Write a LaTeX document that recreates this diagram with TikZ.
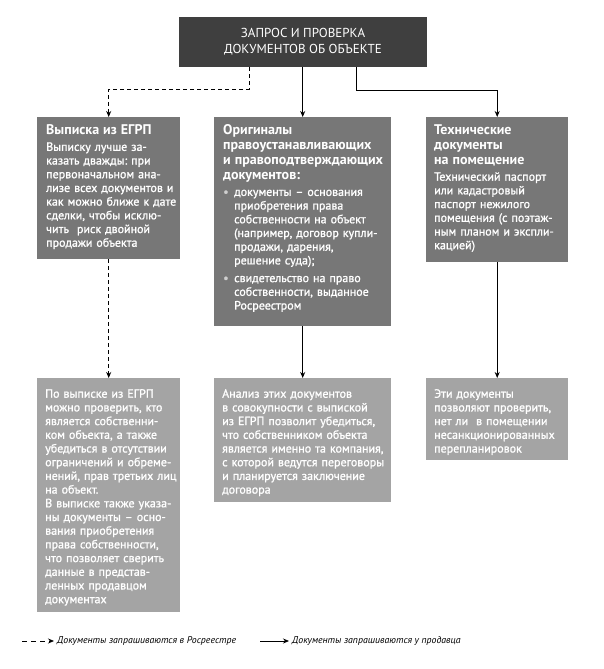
\documentclass[tikz,border=0pt]{standalone}
\usepackage{fontspec}
\setmainfont{PT Sans}
\newfontfamily\semifont{PT Sans}[FakeBold=1.2,WordSpace=0.85]
\usepackage{xcolor}
\usepackage{tikz}
\usetikzlibrary{arrows.meta,positioning,calc}
\frenchspacing
\definecolor{darkfill}{HTML}{3F3F3F}
\definecolor{midfill}{HTML}{777777}
\definecolor{lightfill}{HTML}{A4A4A4}
\definecolor{dotgray}{HTML}{CFCFCF}
\tikzset{
  reqbox/.style ={fill=darkfill,text=white,minimum width=248pt,minimum height=50pt,inner sep=0pt,align=center,font=\fontsize{13}{16}\selectfont},
  upbox/.style  ={fill=midfill,anchor=north west,inner sep=0pt},
  lowbox/.style ={fill=lightfill,anchor=north west,inner sep=0pt},
  txt/.style    ={text=white,anchor=north west,inner sep=0pt,align=left,text width=200pt,font=\semifont\fontsize{12}{13.7}\selectfont\frenchspacing},
  arr/.style    ={-{Stealth[length=6pt,width=5pt]},line width=0.9pt},
  darr/.style   ={arr,dash pattern=on 4pt off 3pt},
  legtxt/.style ={anchor=west,inner xsep=3pt,inner ysep=0pt,font=\itshape\fontsize{9.8}{11}\selectfont},
}
\newcommand{\hdfont}{\rmfamily\bfseries\fontsize{14}{15}\selectfont}
\newcommand{\bdfont}{\semifont\mdseries\fontsize{12}{13.7}\selectfont}
\newcommand{\bul}{\makebox[11pt][l]{\textcolor{dotgray}{\textbullet}}}
\newcommand{\ind}{\hspace*{11pt}}

\begin{document}
\begin{tikzpicture}[x=1pt,y=-1pt]
  \useasboundingbox (0,0) rectangle (604,669);
  % top
  \node[reqbox] (req) at (303,42) {ЗАПРОС И ПРОВЕРКА\\ДОКУМЕНТОВ ОБ ОБЪЕКТЕ};
  % first row
  \node[upbox,minimum width=143pt,minimum height=142pt] (egrp) at (37,117) {};
  \node[upbox,minimum width=177pt,minimum height=209pt] (orig) at (214,117) {};
  \node[upbox,minimum width=142pt,minimum height=145pt] (tech) at (426,117) {};
  % second row
  \node[lowbox,minimum width=143pt,minimum height=234pt] (chkA) at (37,378) {};
  \node[lowbox,minimum width=177pt,minimum height=124pt] (chkB) at (214,378) {};
  \node[lowbox,minimum width=142pt,minimum height=82pt]  (chkC) at (426,378) {};
  % texts, first row
  \node[txt] (egrp-t) at ([xshift=9pt,yshift=-7pt]egrp.north west)
    {\hdfont Выписка из ЕГРП\\[3pt]\bdfont
     Выписку лучше за-\\казать дважды: при\\первоначальном ана-\\лизе всех документов и\\
     как можно ближе к дате\\сделки, чтобы исклю-\\чить\ \ риск двойной\\продажи объекта};
  \node[txt] (orig-t) at ([xshift=9pt,yshift=-7pt]orig.north west)
    {\hdfont Оригиналы\\правоустанавливающих\\и правоподтверждающих\\документов:\\[3pt]\bdfont
     \bul документы – основания\\\ind приобретения права\\\ind собственности на объект\\
     \ind (например, договор купли-\\\ind продажи, дарения,\\\ind решение суда);\\[4pt]
     \bul свидетельство на право\\\ind собственности, выданное\\\ind Росреестром};
  \node[txt] (tech-t) at ([xshift=8pt,yshift=-7pt]tech.north west)
    {\hdfont Технические\\документы\\на помещение\\[3pt]\bdfont
     Технический паспорт\\или кадастровый\\паспорт нежилого\\помещения (с поэтаж-\\
     ным планом и экспли-\\кацией)};
  % texts, second row
  \node[txt] (chkA-t) at ([xshift=8pt,yshift=-11pt]chkA.north west)
    {По выписке из ЕГРП\\можно проверить, кто\\является собственни-\\ком объекта, а также\\
     убедиться в отсутствии\\ограничений и обреме-\\нений, прав третьих лиц\\на объект.\\
     В выписке также указа-\\ны документы – осно-\\вания приобретения\\права собственности,\\
     что позволяет сверить\\данные в представ-\\ленных продавцом\\документах};
  \node[txt] (chkB-t) at ([xshift=8pt,yshift=-11pt]chkB.north west)
    {Анализ этих документов\\в совокупности с выпиской\\из ЕГРП позволит убедиться,\\
     что собственником объекта\\является именно та компания,\\с которой ведутся переговоры\\
     и планируется заключение\\договора};
  \node[txt] (chkC-t) at ([xshift=8pt,yshift=-11pt]chkC.north west)
    {Эти документы\\позволяют проверить,\\нет ли\ \ в помещении\\несанкционированных\\перепланировок};
  % connectors
  \draw[darr] ([xshift=-54pt]req.south) -- ++(0,22) -| (egrp.north);
  \draw[arr] (orig.north |- req.south) -- (orig.north);
  \draw[arr] ([xshift=53pt]req.south) -- ++(0,23) -| (tech.north);
  \draw[darr] (egrp) -- (chkA);
  \foreach \a/\b in {orig/chkB,tech/chkC}
    \draw[arr] (\a) -- (\b);
  % legend
  \coordinate (lgA) at (22,641);
  \coordinate (lgB) at (260,641);
  \node[legtxt] (lgA-t) at (54,641) {Документы запрашиваются в Росреестре};
  \node[legtxt] (lgB-t) at (289,641) {Документы запрашиваются у продавца};
  \draw[arr,dash pattern=on 5pt off 4pt,line width=0.8pt] (lgA) -- (lgA-t.west);
  \draw[arr,line width=0.8pt] (lgB) -- (lgB-t.west);
\end{tikzpicture}
\end{document}
